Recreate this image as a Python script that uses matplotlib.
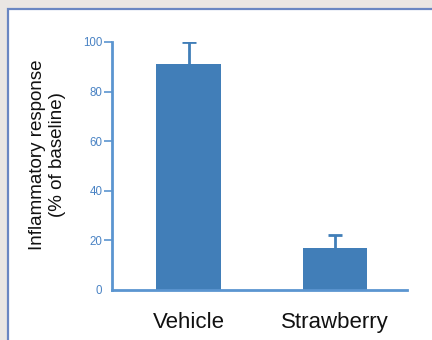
import matplotlib
matplotlib.use("Agg")
import matplotlib.pyplot as plt
from matplotlib.patches import Rectangle

# Data
groups = ["Vehicle", "Strawberry"]
response = [91, 17]
error = [9, 5]
y_ticks = [0, 20, 40, 60, 80, 100]

bar_color = "#417EB8"
axis_color = "#5B95D0"
tick_label_color = "#4A83C4"

plt.rcParams["font.family"] = ["Liberation Sans", "DejaVu Sans"]

fig = plt.figure(figsize=(4.32, 3.40), dpi=100)
fig.patch.set_facecolor("#EAE6E3")

# White framed panel behind the chart
panel = Rectangle((8 / 432, -0.05), 1.05, 1 - 8.5 / 340 + 0.05,
                  transform=fig.transFigure, facecolor="white",
                  edgecolor="#6A86C2", linewidth=1.6, zorder=-10)
fig.add_artist(panel)

ax = fig.add_axes([112 / 432, 1 - 290 / 340, (407 - 112) / 432, (290 - 42) / 340])
ax.set_facecolor("none")
ax.set_zorder(1)

x = list(range(len(groups)))
# symmetric error bars drawn under the bars so only the upper half shows
ax.errorbar(x, response, yerr=error, fmt="none", ecolor=bar_color,
            elinewidth=2, capsize=4.7, capthick=2, zorder=1)
ax.bar(x, response, width=0.445, color=bar_color, zorder=2)

ax.set_xlim(-0.527, 1.493)
ax.set_ylim(0, 100)

for side in ["top", "right"]:
    ax.spines[side].set_visible(False)
for side in ["left", "bottom"]:
    ax.spines[side].set_color(axis_color)
    ax.spines[side].set_linewidth(2)

ax.set_yticks(y_ticks)
ax.set_yticklabels([str(v) for v in y_ticks], color=tick_label_color, fontsize=8.3)
ax.tick_params(axis="y", length=6, width=1.2, color=axis_color, pad=1)
for t in ax.yaxis.get_major_ticks()[:1]:
    t.tick1line.set_visible(False)

ax.set_xticks(x)
ax.set_xticklabels(groups, fontsize=16, color="#111111")
ax.tick_params(axis="x", length=0, pad=16)

ax.set_ylabel("Inflammatory response\n(% of baseline)", fontsize=13.5,
              color="#111111", linespacing=1.25)
ax.yaxis.set_label_coords(-0.155, 0.545)

fig.savefig("out.png", dpi=100, facecolor=fig.get_facecolor())
